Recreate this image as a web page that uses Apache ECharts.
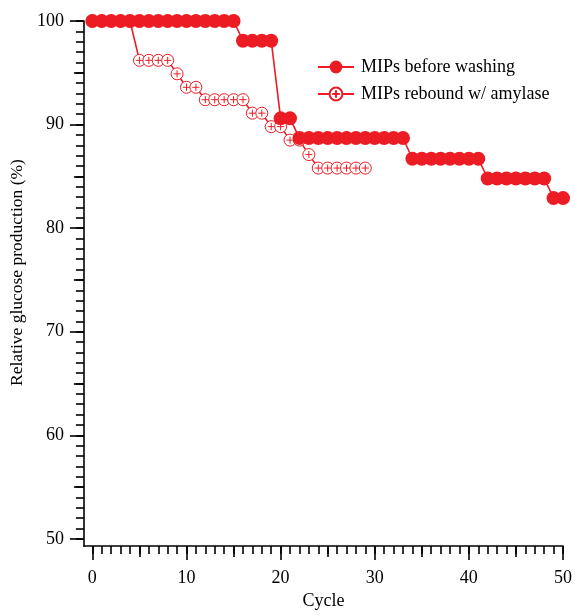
<!DOCTYPE html>
<html>
<head>
<meta charset="utf-8">
<script src="https://cdn.jsdelivr.net/npm/echarts@6/dist/echarts.min.js"></script>
<style>html,body{margin:0;padding:0;background:#fff}#c{width:575px;height:615px}</style>
</head>
<body>
<div id="c"></div>
<script>
const cyclesBefore = [0,1,2,3,4,5,6,7,8,9,10,11,12,13,14,15,16,17,18,19,20,21,22,23,24,25,26,27,28,29,30,31,32,33,34,35,36,37,38,39,40,41,42,43,44,45,46,47,48,49,50];
const valuesBefore = [100,100,100,100,100,100,100,100,100,100,100,100,100,100,100,100,
  98.1,98.1,98.1,98.1,
  90.6,90.6,
  88.7,88.7,88.7,88.7,88.7,88.7,88.7,88.7,88.7,88.7,88.7,88.7,
  86.7,86.7,86.7,86.7,86.7,86.7,86.7,86.7,
  84.8,84.8,84.8,84.8,84.8,84.8,84.8,
  82.9,82.9];
const cyclesRebound = [0,1,2,3,4,5,6,7,8,9,10,11,12,13,14,15,16,17,18,19,20,21,22,23,24,25,26,27,28,29];
const valuesRebound = [100,100,100,100,100,
  96.2,96.2,96.2,96.2,
  94.9,
  93.6,93.6,
  92.4,92.4,92.4,92.4,92.4,
  91.1,91.1,
  89.8,89.8,
  88.5,88.5,
  87.1,
  85.8,85.8,85.8,85.8,85.8,85.8];
const xMajorTicks = [0,10,20,30,40,50];
const xMidTicks = [5,15,25,35,45];
const xMinorTicks = cyclesBefore;
const yMajorTicks = [50,60,70,80,90,100];
const yMidTicks = [55,65,75,85,95];
const yMinorTicks = [50,51,52,53,54,55,56,57,58,59,60,61,62,63,64,65,66,67,68,69,70,71,72,73,74,75,76,77,78,79,80,81,82,83,84,85,86,87,88,89,90,91,92,93,94,95,96,97,98,99,100];

const RED = '#ec1c24';
const FONT = 'Liberation Serif';
const X_MIN = -0.9, X_MAX = 50, Y_MIN = 49.3, Y_MAX = 100;

function xAx(ticks, len, main) {
  return {
    type: 'value', min: X_MIN, max: X_MAX, position: 'bottom',
    axisLine: {show: main, onZero: false, lineStyle: {color: '#000', width: 1.6}},
    axisTick: {show: true, customValues: ticks, length: len, lineStyle: {color: '#000', width: 1.6}},
    axisLabel: main ? {show: true, customValues: xMajorTicks, margin: 23, color: '#000', fontFamily: FONT, fontSize: 18} : {show: false},
    splitLine: {show: false},
    name: main ? 'Cycle' : '', nameLocation: 'middle', nameGap: 43,
    nameTextStyle: {color: '#000', fontFamily: FONT, fontSize: 18}
  };
}
function yAx(ticks, len, main) {
  return {
    type: 'value', min: Y_MIN, max: Y_MAX, position: 'left',
    axisLine: {show: main, onZero: false, lineStyle: {color: '#000', width: 1.6}},
    axisTick: {show: true, customValues: ticks, length: len, lineStyle: {color: '#000', width: 1.6}},
    axisLabel: main ? {show: true, customValues: yMajorTicks, margin: 20, color: '#000', fontFamily: FONT, fontSize: 18} : {show: false},
    splitLine: {show: false},
    name: main ? 'Relative glucose production (%)' : '', nameLocation: 'middle', nameGap: 49,
    nameTextStyle: {color: '#000', fontFamily: FONT, fontSize: 17.5, padding: [0, 0, 0, 22]}
  };
}

const chart = echarts.init(document.getElementById('c'), null, {renderer: 'canvas'});
chart.setOption({
  animation: false,
  backgroundColor: '#fff',
  grid: {left: 82, right: 9, top: 21, bottom: 67, containLabel: false},
  xAxis: [xAx(xMajorTicks, 14, true), xAx(xMidTicks, 11, false), xAx(xMinorTicks, 8, false)],
  yAxis: [yAx(yMajorTicks, 14, true), yAx(yMidTicks, 10, false), yAx(yMinorTicks, 8, false)],
  legend: {
    orient: 'vertical', left: 312, top: 53,
    itemWidth: 36, itemHeight: 16, itemGap: 9,
    textStyle: {color: '#000', fontFamily: FONT, fontSize: 18, padding: [0,0,0,2]},
    data: ['MIPs before washing', 'MIPs rebound w/ amylase']
  },
  series: [
    {
      name: 'MIPs before washing', type: 'line', z: 3,
      data: cyclesBefore.map((c, i) => [c, valuesBefore[i]]),
      symbol: 'circle', symbolSize: 14,
      lineStyle: {color: RED, width: 1.6},
      itemStyle: {color: RED}
    },
    {
      name: 'MIPs rebound w/ amylase', type: 'line', z: 2,
      data: cyclesRebound.map((c, i) => [c, valuesRebound[i]]),
      symbol: 'path://M0,10 A10,10 0 1 1 20,10 A10,10 0 1 1 0,10 Z M10,4 L10,16 M4,10 L16,10',
      symbolSize: 12,
      lineStyle: {color: RED, width: 1.6},
      itemStyle: {color: '#fff', borderColor: RED, borderWidth: 1}
    }
  ]
});
</script>
</body>
</html>
